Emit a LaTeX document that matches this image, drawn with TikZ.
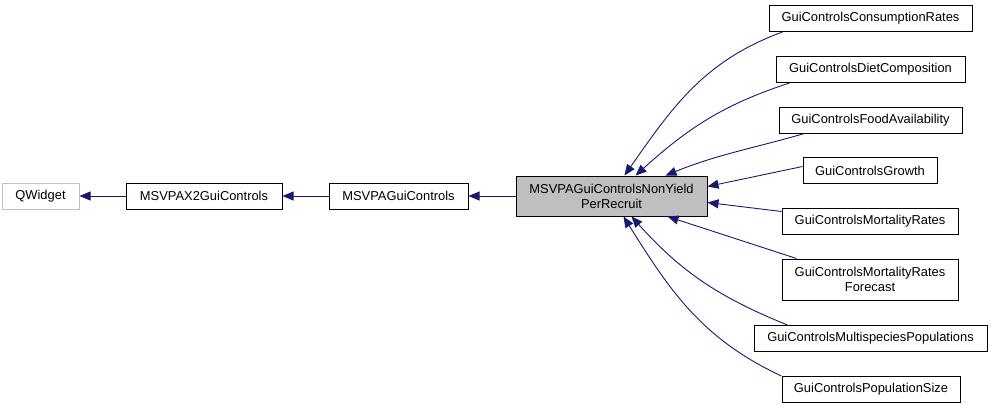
\documentclass[tikz,border=0pt]{standalone}
\usepackage{fontspec}
\setmainfont{Liberation Sans}
\usetikzlibrary{arrows.meta}
\definecolor{edgeblue}{RGB}{25,25,112}
\definecolor{boxgray}{RGB}{191,191,191}
\tikzset{
  cls/.style={draw=black, line width=1pt, fill=white, inner sep=0pt, align=center,
    font=\fontsize{12.9}{15}\selectfont},
  extcls/.style={cls, draw=boxgray},
  curcls/.style={cls, fill=boxgray},
  edge/.style={draw=edgeblue, line width=0.9pt, {Triangle[length=11pt,width=9pt]}-}
}
\begin{document}
\begin{tikzpicture}[x=1pt,y=1pt]
\useasboundingbox (0,0) rectangle (992,-408);
\node[extcls, minimum width=77pt, minimum height=26pt] (qw) at (40.5,-196) {QWidget};
\node[cls, minimum width=156pt, minimum height=26pt] (x2) at (204,-196) {MSVPAX2GuiControls};
\node[cls, minimum width=139pt, minimum height=26pt] (gc) at (398.5,-196) {MSVPAGuiControls};
\node[curcls, minimum width=191pt, minimum height=40pt] (nyp) at (611.5,-196) {MSVPAGuiControlsNonYield\\PerRecruit};
\node[cls, minimum width=203pt, minimum height=26pt] (cons) at (870.5,-18.5) {GuiControlsConsumptionRates};
\node[cls, minimum width=189pt, minimum height=26pt] (diet) at (870.5,-69.5) {GuiControlsDietComposition};
\node[cls, minimum width=183pt, minimum height=26pt] (food) at (870.5,-120) {GuiControlsFoodAvailability};
\node[cls, minimum width=134pt, minimum height=26pt] (grow) at (870,-170.5) {GuiControlsGrowth};
\node[cls, minimum width=176pt, minimum height=26pt] (mort) at (870,-221) {GuiControlsMortalityRates};
\node[cls, minimum width=176pt, minimum height=41pt] (fore) at (870,-279.5) {GuiControlsMortalityRates\\Forecast};
\node[cls, minimum width=233pt, minimum height=26pt] (multi) at (870.5,-338.5) {GuiControlsMultispeciesPopulations};
\node[cls, minimum width=178pt, minimum height=26pt] (pop) at (871,-389.5) {GuiControlsPopulationSize};

\draw[edge] (qw.east) -- (x2.west);
\draw[edge] (x2.east) -- (gc.west);
\draw[edge] (gc.east) -- (nyp.west);

\draw[edge] ([xshift=109pt]nyp.north west) to[out=55,in=200] ([xshift=14pt]cons.south west);
\draw[edge] ([xshift=120pt]nyp.north west) to[out=42,in=198] ([xshift=14pt]diet.south west);
\draw[edge] ([xshift=150pt]nyp.north west) to[out=22,in=196] ([xshift=26pt]food.south west);
\draw[edge] ([yshift=-11pt]nyp.north east) -- ([yshift=4pt]grow.west);
\draw[edge] ([yshift=14pt]nyp.south east) -- ([yshift=-4pt]mort.north west);
\draw[edge] ([xshift=152pt]nyp.south west) -- ([xshift=15pt]fore.north west);
\draw[edge] ([xshift=116pt]nyp.south west) to[out=-48,in=158] ([xshift=34pt]multi.north west);
\draw[edge] ([xshift=108pt]nyp.south west) to[out=-58,in=155] ([xshift=0pt]pop.north west);
\end{tikzpicture}
\end{document}
